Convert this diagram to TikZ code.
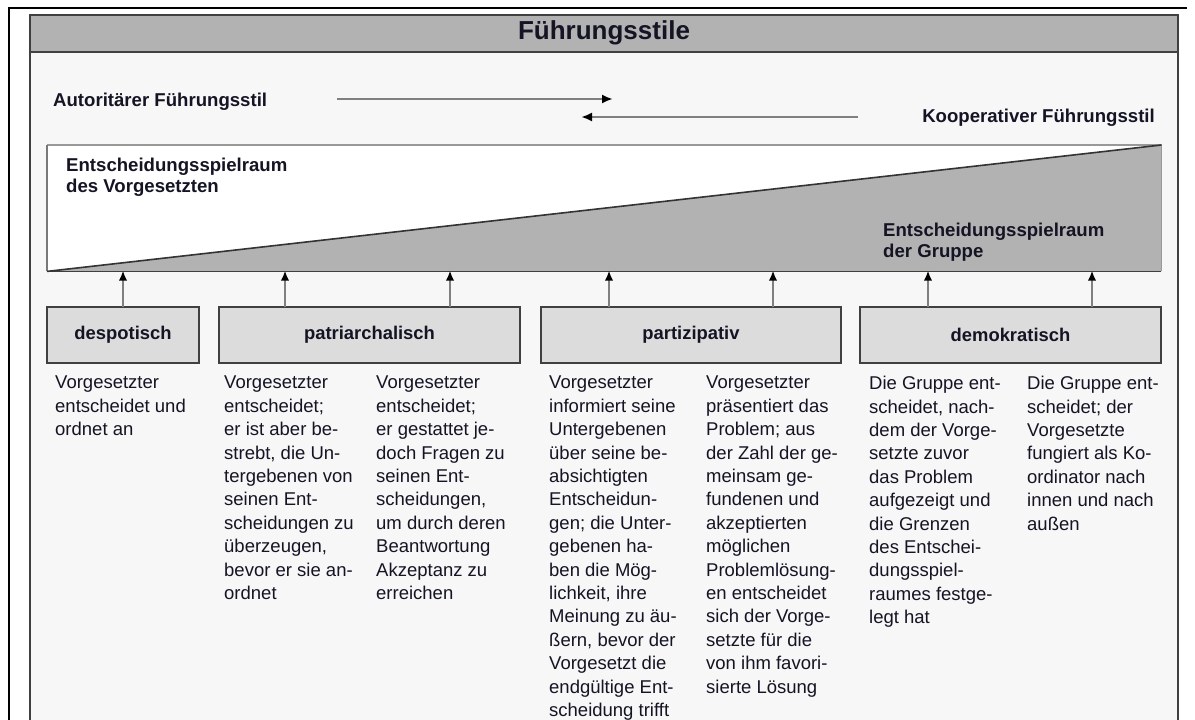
\documentclass[tikz,border=0pt]{standalone}
\usepackage{fontspec}
\setmainfont{Liberation Sans}
\usetikzlibrary{arrows.meta}
\definecolor{panelbg}{HTML}{F7F7F7}
\definecolor{barfill}{HTML}{B2B2B2}
\definecolor{boxfill}{HTML}{DCDCDC}
\definecolor{darkline}{HTML}{404040}
\definecolor{midline}{HTML}{808080}
\definecolor{lightline}{HTML}{999999}
\definecolor{txt}{HTML}{141424}
\tikzset{
  lbl/.style={font=\bfseries\fontsize{18.6}{21}\selectfont, text=txt, inner sep=0pt},
  body/.style={font=\fontsize{18.5}{23.4}\selectfont, text=txt, inner sep=0pt, align=left, anchor=north west},
  stylebox/.style={draw=darkline, line width=1.3pt, fill=boxfill, minimum height=56pt, inner sep=0pt,
     font=\bfseries\fontsize{18.4}{21}\selectfont, text=txt},
  uparrow/.style={draw=midline, line width=2pt, -{Latex[length=10pt,width=8.5pt,color=black]}},
  sidearrow/.style={draw=midline, line width=2.4pt, -{Latex[length=11pt,width=9pt,color=black]}}
}
\begin{document}
\begin{tikzpicture}[x=1pt,y=-1pt]
\useasboundingbox (0,0) rectangle (1195,720);
% outer frame (partly visible)
\draw[black, line width=2.6pt] (9,725) -- (9,8) -- (1187,8);
% panel
\draw[fill=panelbg, draw=darkline, line width=2pt] (30,725) -- (30,15) -- (1178,15) -- (1178,725);
\draw[fill=barfill, draw=darkline, line width=2pt] (30,15) rectangle (1178,52);
\node[font=\bfseries\fontsize{26}{30}\selectfont, text=txt, inner sep=0pt] (title) at (604,33) {Führungsstile};

% direction labels and arrows
\node[lbl, anchor=base west] (auth) at (53,106) {Autoritärer Führungsstil};
\node[lbl, anchor=base east] (koop) at (1155,122) {Kooperativer Führungsstil};
\coordinate (a1s) at (337,99);
\coordinate (a1e) at (613,99);
\coordinate (a2s) at (858,117);
\coordinate (a2e) at (581,117);
\draw[sidearrow] (a1s) -- (a1e);
\draw[sidearrow] (a2s) -- (a2e);

% decision space rectangle
\node[fill=white, inner sep=0pt, minimum width=1114pt, minimum height=126pt, anchor=north west] (big) at (47,145) {};
\fill[barfill] (big.south west) -- (big.north east) -- (big.south east) -- cycle;
\draw[lightline, line width=1.6pt] (big.south east) -- (big.north east) -- (big.north west);
\draw[darkline!70, line width=1.6pt] (big.north west) -- (big.south west);
\draw[darkline, line width=1.6pt] (big.south west) -- (big.south east);
\draw[darkline!80!black, line width=1.6pt] (big.south west) -- (big.north east);
\node[lbl, align=left, anchor=north west] (vorg) at (66,158) {Entscheidungsspielraum\\des Vorgesetzten};
\node[lbl, align=left, anchor=north west] (grup) at (883,223) {Entscheidungsspielraum\\der Gruppe};

% style boxes
\node[stylebox, minimum width=152pt] (desp) at (123,335) {despotisch};
\node[stylebox, minimum width=301pt] (patr) at (369.5,335) {patriarchalisch};
\node[stylebox, minimum width=300pt] (part) at (691,335) {partizipativ};
\node[stylebox, minimum width=301pt] (demo) at (1010.5,335) {demokratisch};

% arrows up
\coordinate (u1) at (123,307);
\coordinate (u2) at (285,307);
\coordinate (u3) at (450,307);
\coordinate (u4) at (609,307);
\coordinate (u5) at (773,307);
\coordinate (u6) at (928,307);
\coordinate (u7) at (1092,307);
\foreach \u in {u1,u2,u3,u4,u5,u6,u7}
  \draw[uparrow] (\u) -- ([yshift=0.8pt]\u |- big.south);

% descriptions
\node[body] (t1) at (55,376) {Vorgesetzter\\entscheidet und\\ordnet an};
\node[body] (t2) at (224,376) {Vorgesetzter\\entscheidet;\\er ist aber be-\\strebt, die Un-\\tergebenen von\\seinen Ent-\\scheidungen zu\\überzeugen,\\bevor er sie an-\\ordnet};
\node[body] (t3) at (376,376) {Vorgesetzter\\entscheidet;\\er gestattet je-\\doch Fragen zu\\seinen Ent-\\scheidungen,\\um durch deren\\Beantwortung\\Akzeptanz zu\\erreichen};
\node[body] (t4) at (549,376) {Vorgesetzter\\informiert seine\\Untergebenen\\über seine be-\\absichtigten\\Entscheidun-\\gen; die Unter-\\gebenen ha-\\ben die Mög-\\lichkeit, ihre\\Meinung zu äu-\\ßern, bevor der\\Vorgesetzt die\\endgültige Ent-\\scheidung trifft};
\node[body] (t5) at (706,376) {Vorgesetzter\\präsentiert das\\Problem; aus\\der Zahl der ge-\\meinsam ge-\\fundenen und\\akzeptierten\\möglichen\\Problemlösung-\\en entscheidet\\sich der Vorge-\\setzte für die\\von ihm favori-\\sierte Lösung};
\node[body] (t6) at (869,376) {Die Gruppe ent-\\scheidet, nach-\\dem der Vorge-\\setzte zuvor\\das Problem\\aufgezeigt und\\die Grenzen\\des Entschei-\\dungsspiel-\\raumes festge-\\legt hat};
\node[body] (t7) at (1027,376) {Die Gruppe ent-\\scheidet; der\\Vorgesetzte\\fungiert als Ko-\\ordinator nach\\innen und nach\\außen};
\end{tikzpicture}
\end{document}
